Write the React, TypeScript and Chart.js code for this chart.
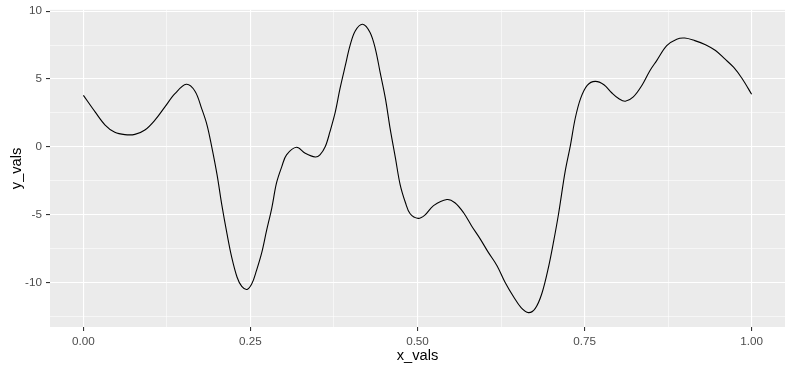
import React, { useEffect, useRef } from "react";
import { Chart, registerables } from "chart.js";

Chart.register(...registerables);

const xVals = [
  0.0, 0.0175, 0.0325, 0.047, 0.062, 0.077, 0.092, 0.107, 0.122, 0.137, 0.154, 0.167,
  0.177, 0.185, 0.192, 0.2, 0.207, 0.215, 0.222, 0.23, 0.237, 0.245, 0.252, 0.259,
  0.267, 0.274, 0.282, 0.289, 0.297, 0.304, 0.319, 0.332, 0.347, 0.354, 0.362, 0.369,
  0.377, 0.384, 0.392, 0.399, 0.407, 0.418, 0.429, 0.437, 0.444, 0.452, 0.459, 0.467,
  0.474, 0.482, 0.489, 0.501, 0.511, 0.524, 0.544, 0.556, 0.569, 0.581, 0.594, 0.606,
  0.619, 0.631, 0.644, 0.655, 0.666, 0.676, 0.686, 0.696, 0.704, 0.711, 0.721, 0.729,
  0.736, 0.744, 0.754, 0.766, 0.779, 0.791, 0.801, 0.811, 0.823, 0.836, 0.848, 0.858,
  0.873, 0.888, 0.9, 0.915, 0.931, 0.946, 0.96, 0.973, 0.986, 1.0,
];

const yVals = [
  3.8, 2.58, 1.61, 1.07, 0.9, 0.92, 1.24, 1.97, 2.95, 3.92, 4.61, 4.1,
  2.82, 1.61, 0.02, -2.05, -4.24, -6.44, -8.15, -9.61, -10.29, -10.51, -10.1, -9.12,
  -7.78, -6.2, -4.49, -2.66, -1.44, -0.59, -0.03, -0.47, -0.75, -0.59, 0.02, 1.12,
  2.58, 4.29, 6.0, 7.46, 8.56, 9.04, 8.43, 7.21, 5.51, 3.56, 1.36, -0.83,
  -2.78, -4.12, -4.93, -5.27, -5.03, -4.33, -3.88, -4.12, -4.86, -5.83, -6.8, -7.78,
  -8.76, -9.98, -11.07, -11.85, -12.22, -11.93, -10.83, -8.88, -6.9, -4.97, -1.81, 0.15,
  2.09, 3.56, 4.54, 4.83, 4.58, 3.97, 3.56, 3.36, 3.68, 4.54, 5.63, 6.36,
  7.46, 7.94, 8.02, 7.83, 7.53, 7.1, 6.48, 5.87, 5.02, 3.88,
];

const xTicks = [0, 0.125, 0.25, 0.375, 0.5, 0.625, 0.75, 0.875, 1];
const xMajor = [0, 0.25, 0.5, 0.75, 1];
const yTicks = [-12.5, -10, -7.5, -5, -2.5, 0, 2.5, 5, 7.5, 10];
const yMajor = [-10, -5, 0, 5, 10];

const isMajor = (v: number, arr: number[]) => arr.some((m) => Math.abs(m - v) < 1e-9);

const FONT = "'Liberation Sans', Arial, sans-serif";

const panelBg = {
  id: "panelBg",
  beforeDraw(chart: any) {
    const { ctx, chartArea } = chart;
    ctx.save();
    ctx.fillStyle = "#EBEBEB";
    ctx.fillRect(chartArea.left, chartArea.top, chartArea.right - chartArea.left, chartArea.bottom - chartArea.top);
    ctx.restore();
  },
};

export default function App() {
  const ref = useRef<HTMLCanvasElement | null>(null);

  useEffect(() => {
    if (!ref.current) return;
    const chart = new Chart(ref.current, {
      type: "line",
      data: {
        datasets: [
          {
            data: xVals.map((x, i) => ({ x, y: yVals[i] })),
            borderColor: "#000000",
            borderWidth: 1.1,
            pointRadius: 0,
            fill: false,
            tension: 0.35,
          },
        ],
      },
      options: {
        responsive: false,
        animation: false,
        devicePixelRatio: 1,
        layout: { padding: { top: 7, right: 7, left: 0, bottom: 0 } },
        plugins: { legend: { display: false }, tooltip: { enabled: false } },
        scales: {
          x: {
            type: "linear",
            min: -0.05,
            max: 1.05,
            afterBuildTicks: (s: any) => {
              s.ticks = xTicks.map((v) => ({ value: v }));
            },
            afterFit: (s: any) => {
              s.height = 46;
            },
            border: { display: false },
            grid: {
              color: "#FFFFFF",
              lineWidth: (c: any) => (isMajor(c.tick.value, xMajor) ? 1.1 : 0.55),
              tickLength: 4,
              tickColor: (c: any) => (isMajor(c.tick.value, xMajor) ? "#333333" : "rgba(0,0,0,0)"),
              tickWidth: 1.1,
            },
            ticks: {
              autoSkip: false,
              maxRotation: 0,
              padding: 4,
              color: "#4D4D4D",
              font: { family: FONT, size: 11.7 },
              callback: (v: any) => (isMajor(Number(v), xMajor) ? Number(v).toFixed(2) : ""),
            },
            title: {
              display: true,
              text: "x_vals",
              color: "#000000",
              font: { family: FONT, size: 14.67 },
              padding: { top: 0, bottom: 8 },
            },
          },
          y: {
            type: "linear",
            min: -13.28,
            max: 10.1,
            afterBuildTicks: (s: any) => {
              s.ticks = yTicks.map((v) => ({ value: v }));
            },
            afterFit: (s: any) => {
              s.width = 50;
            },
            border: { display: false },
            grid: {
              color: "#FFFFFF",
              lineWidth: (c: any) => (isMajor(c.tick.value, yMajor) ? 1.1 : 0.55),
              tickLength: 4,
              tickColor: (c: any) => (isMajor(c.tick.value, yMajor) ? "#333333" : "rgba(0,0,0,0)"),
              tickWidth: 1.1,
            },
            ticks: {
              autoSkip: false,
              padding: 4,
              color: "#4D4D4D",
              font: { family: FONT, size: 11.7, lineHeight: 1 },
              callback: (v: any) => (isMajor(Number(v), yMajor) ? String(Number(v)) : ""),
            },
            title: {
              display: true,
              text: "y_vals",
              color: "#000000",
              font: { family: FONT, size: 14.67 },
              padding: { top: 8, bottom: 0 },
            },
          },
        },
      },
      plugins: [panelBg],
    } as any);
    return () => chart.destroy();
  }, []);

  return (
    <div style={{ position: "absolute", left: 0, top: 0, width: 792, height: 373, background: "#FFFFFF" }}>
      <canvas ref={ref} width={792} height={373} style={{ display: "block", width: 792, height: 373 }} />
    </div>
  );
}
